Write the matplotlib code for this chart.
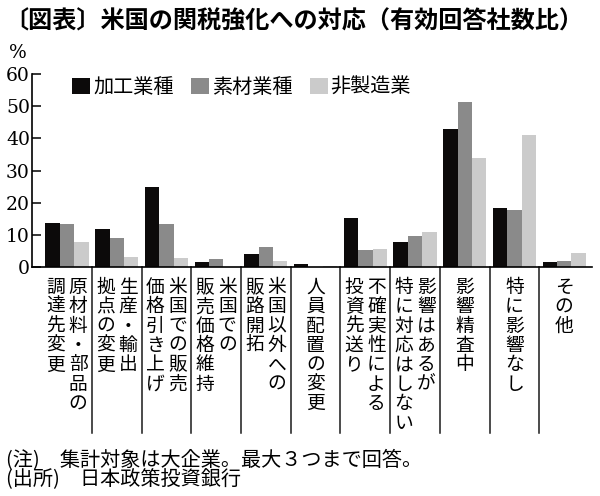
import numpy as np
import matplotlib
matplotlib.use('Agg')
import matplotlib.pyplot as plt
import matplotlib.transforms as mtransforms
from matplotlib.patches import Patch

plt.rcParams['font.family'] = ['Noto Sans CJK JP', 'DejaVu Sans']

# データ
title = '〔図表〕米国の関税強化への対応（有効回答社数比）'
series = ['加工業種', '素材業種', '非製造業']
# 縦書きラベル（右の列, 左の列）
labels = [
    ('原材料・部品の', '調達先変更'),
    ('生産・輸出', '拠点の変更'),
    ('米国での販売', '価格引き上げ'),
    ('米国での', '販売価格維持'),
    ('米国以外への', '販路開拓'),
    ('人員配置の変更',),
    ('不確実性による', '投資先送り'),
    ('影響はあるが', '特に対応はしない'),
    ('影響精査中',),
    ('特に影響なし',),
    ('その他',),
]
kako = [13.8, 11.8, 25.0, 1.4, 3.9, 0.8, 15.2, 7.8, 42.9, 18.2, 1.5]
sozai = [13.3, 8.9, 13.3, 2.6, 6.3, 0.0, 5.3, 9.7, 51.4, 17.8, 2.0]
hisei = [7.8, 3.1, 2.8, 0.0, 1.8, 0.3, 5.6, 11.0, 33.8, 40.9, 4.5]
yticks = [0, 10, 20, 30, 40, 50, 60]
notes = ['(注)　集計対象は大企業。最大３つまで回答。', '(出所)　日本政策投資銀行']

colors = ['#0c0a0a', '#8a8a8a', '#cbcbcb']

fig = plt.figure(figsize=(6, 4.96), dpi=100)
ax = fig.add_axes([32/600, 1-267/496, 560/600, 193/496])

x = np.arange(len(labels))
w = 0.29
for j, vals in enumerate([kako, sozai, hisei]):
    ax.bar(x + (j-1)*w, vals, width=w, color=colors[j], linewidth=0)

ax.set_xlim(-0.704, 10.56)
ax.set_ylim(0, 60)
ax.set_yticks(yticks)
ax.set_yticklabels([str(t) for t in yticks], family='DejaVu Serif', fontsize=13.5)
ax.tick_params(axis='y', direction='in', length=6.5, width=1.1, pad=1.5)
ax.set_xticks([])
for s in ['top', 'right']:
    ax.spines[s].set_visible(False)
for s in ['left', 'bottom']:
    ax.spines[s].set_linewidth(1.2)

# 区切り線
trans = mtransforms.blended_transform_factory(ax.transData, ax.transAxes)
for i in range(len(labels)-1):
    ax.plot([i+0.5, i+0.5], [0, -0.862], transform=trans, color='#1a1a1a',
            lw=1.1, clip_on=False)

# 縦書きラベル
pitch = 13.97
for i, cols in enumerate(labels):
    if len(cols) == 1:
        offs = [0.0]
    else:
        offs = [0.225, -0.225]
    for col, dx in zip(cols, offs):
        for k, ch in enumerate(col):
            ax.annotate(ch, xy=(i+dx, 0), xycoords=trans,
                        xytext=(0, -14.6 - k*pitch), textcoords='offset points',
                        ha='center', va='center', fontsize=13.5)

# 凡例
handles = [Patch(facecolor=c, edgecolor='none') for c in colors]
fig.legend(handles, series, loc='upper left', bbox_to_anchor=(72/600, 1-77/496),
           ncol=3, frameon=False, fontsize=14.5, handlelength=0.9, handleheight=0.9,
           handletextpad=0.15, columnspacing=0.85, borderpad=0, borderaxespad=0)

fig.text(4/600, 1-21/496, title, fontsize=17.4, fontweight='bold', va='center', ha='left')
fig.text(18/600, 1-53/496, '%', family='DejaVu Serif', fontsize=13.5, va='center', ha='center')
fig.text(6/600, 1-470/496, '\n'.join(notes), fontsize=14.5, va='center', ha='left',
         linespacing=0.92)

fig.savefig('out.png', dpi=100)
